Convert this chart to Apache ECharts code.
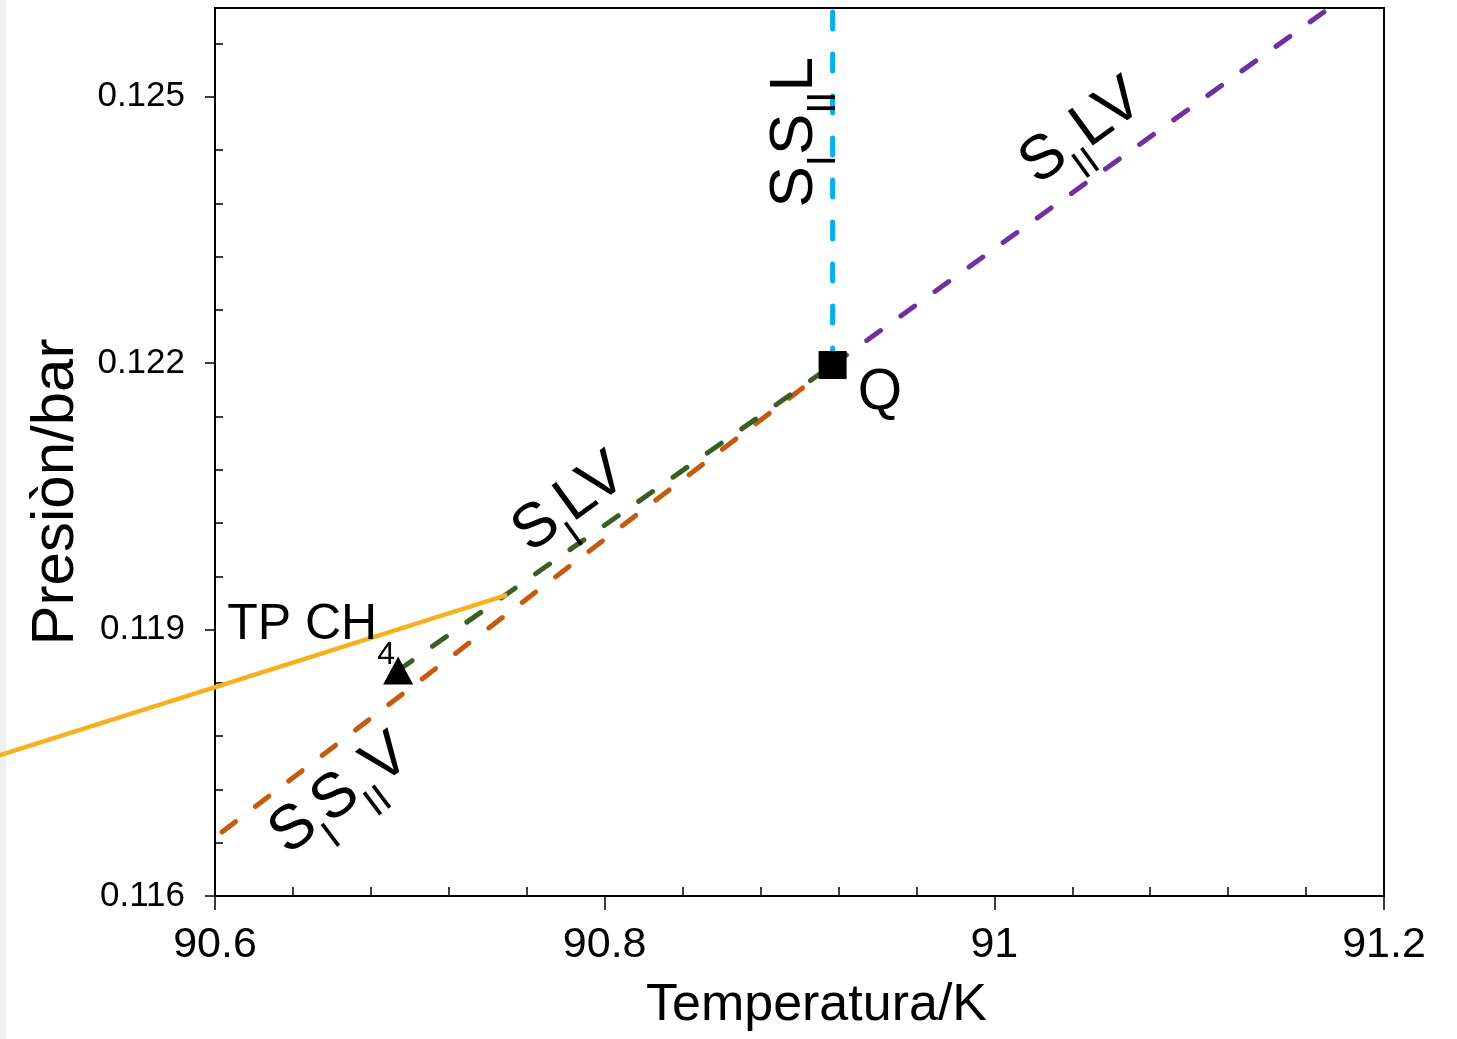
<!DOCTYPE html>
<html><head><meta charset="utf-8">
<script src="https://cdn.jsdelivr.net/npm/echarts@6/dist/echarts.min.js"></script>
<style>html,body{margin:0;padding:0;background:#fff;overflow:hidden}#c{width:1457px;height:1039px}</style>
</head><body><div id="c"></div>
<script>
// ---- data ----
const xTicks = [90.6, 90.8, 91.0, 91.2];
const xMinorTicks = [90.64, 90.68, 90.72, 90.76, 90.84, 90.88, 90.92, 90.96, 91.04, 91.08, 91.12, 91.16];
const yTicks = [0.116, 0.119, 0.122, 0.125];
const yMinorTicks = [0.1166, 0.1172, 0.1178, 0.1184, 0.1196, 0.1202, 0.1208, 0.1214, 0.1226, 0.1232, 0.1238, 0.1244, 0.1256];

const tpCurve   = [[90.48, 0.11752], [90.75, 0.11939]];      // solid gold (extends left of the frame)
const siLV      = [[90.694, 0.11854], [90.917, 0.12198]];    // dark green dashed
const sisiiV    = [[90.6036, 0.11672], [90.917, 0.12198]];   // brown dashed
const sisiiL    = [[90.917, 0.12198], [90.917, 0.126]];      // blue dashed
const siiLV     = [[90.917, 0.12198], [91.172, 0.126]];      // purple dashed
const quadPoint = [[90.917, 0.12198]];                        // Q
const triplePoint = [[90.694, 0.11854]];                      // TP CH4

const labelTexts = ['{m|S}{s|I}{m|S}{s|II}{m|L}', '{m|S}{s|II}{m|LV}', '{m|S}{s|I}{m|LV}', '{m|S}{s|I}{m|S}{s|II}{m|V}', '{t|TP CH}{t4|4}', '{q|Q}'];
const labelX = [90.8977, 91.0449, 90.7822, 90.6642, 90.6493, 90.9413];
const labelY = [0.1246, 0.1246, 0.12042, 0.11714, 0.11905, 0.12166];
const labelAngles = [90, 36, 36, 37, 0, 0];

// ---- chart ----
const FF = '"Liberation Sans", Arial, sans-serif';
const chart = echarts.init(document.getElementById('c'), null, {renderer: 'canvas'});
const gridRect = {left: 215, top: 8, width: 1169, height: 888};
const dash = (color) => ({color: color, width: 5, type: [17, 25], cap: 'round'});

const labelData = labelTexts.map((t, i) => ({
  value: [labelX[i], labelY[i]],
  label: {formatter: t, rotate: labelAngles[i]}
}));

chart.setOption({
  animation: false,
  backgroundColor: '#fff',
  textStyle: {fontFamily: FF},
  grid: [
    Object.assign({show: true, borderColor: '#000', borderWidth: 2, backgroundColor: 'transparent'}, gridRect),
    Object.assign({show: false}, gridRect)
  ],
  xAxis: [
    {type: 'value', gridIndex: 0, min: 90.6, max: 91.2, interval: 0.2, position: 'bottom',
     axisLine: {lineStyle: {color: '#000', width: 2}},
     axisTick: {show: true, inside: false, length: 14, customValues: xTicks, lineStyle: {color: '#000', width: 1.5}},
     axisLabel: {customValues: xTicks, fontSize: 43, margin: 28, color: '#000', fontFamily: FF},
     splitLine: {show: false},
     name: 'Temperatura/K', nameLocation: 'middle', nameGap: 84,
     nameTextStyle: {fontSize: 52, color: '#000', fontFamily: FF, padding: [0, 0, 0, 34]}},
    {type: 'value', gridIndex: 1, min: 90.6, max: 91.2, interval: 0.2, position: 'bottom',
     axisLine: {show: false},
     axisTick: {show: true, inside: true, length: 9, customValues: xMinorTicks, lineStyle: {color: '#000', width: 1.5}},
     axisLabel: {show: false}, splitLine: {show: false}}
  ],
  yAxis: [
    {type: 'value', gridIndex: 0, min: 0.116, max: 0.126, interval: 0.003, position: 'left',
     axisLine: {show: true, lineStyle: {color: '#000', width: 2}},
     axisTick: {show: true, inside: false, length: 10, customValues: yTicks, lineStyle: {color: '#000', width: 1.5}},
     axisLabel: {customValues: yTicks, fontSize: 35, margin: 30, color: '#000', fontFamily: FF},
     splitLine: {show: false},
     name: 'Presiòn/bar', nameLocation: 'middle', nameGap: 128,
     nameTextStyle: {fontSize: 60, color: '#000', fontFamily: FF, padding: [0, 80, 0, 0]}},
    {type: 'value', gridIndex: 1, min: 0.116, max: 0.126, interval: 0.003, position: 'left',
     axisLine: {show: false},
     axisTick: {show: true, inside: true, length: 8, customValues: yMinorTicks, lineStyle: {color: '#000', width: 1.5}},
     axisLabel: {show: false}, splitLine: {show: false}}
  ],
  series: [
    {type: 'line', data: sisiiV, symbol: 'none', lineStyle: dash('#C55A11'), z: 2},
    {type: 'line', data: siLV, symbol: 'none', lineStyle: dash('#3B5E25'), z: 2},
    {type: 'line', data: sisiiL, symbol: 'none', lineStyle: dash('#00B0F0'), z: 2},
    {type: 'line', data: siiLV, symbol: 'none', lineStyle: dash('#7030A0'), z: 2},
    {type: 'scatter', data: quadPoint, symbol: 'rect', symbolSize: 28, itemStyle: {color: '#000', opacity: 1}, z: 5},
    {type: 'scatter', data: triplePoint, symbol: 'triangle', symbolSize: [30, 28], itemStyle: {color: '#000', opacity: 1}, z: 5},
    {type: 'scatter', data: labelData, symbolSize: 1, itemStyle: {color: 'rgba(0,0,0,0)', opacity: 1}, z: 6,
     label: {show: true, position: 'inside', align: 'center', verticalAlign: 'middle', color: '#000',
       rich: {
         m: {fontSize: 62, lineHeight: 70, fontFamily: FF, color: '#000'},
         s: {fontSize: 40, lineHeight: 40, fontFamily: FF, color: '#000', padding: [58, 0, 0, 0]},
         t: {fontSize: 50, lineHeight: 58, fontFamily: FF, color: '#000'},
         t4: {fontSize: 32, lineHeight: 32, fontFamily: FF, color: '#000', padding: [60, 0, 0, 0]},
         q: {fontSize: 57, lineHeight: 64, fontFamily: FF, color: '#000'}
       }},
     emphasis: {disabled: true}}
  ]
});

// gold TP line drawn through the grid's own scales, unclipped (it runs past the left frame)
const tpPixels = tpCurve.map(p => chart.convertToPixel({gridIndex: 0}, p));
chart.setOption({
  graphic: [
    {id: 'strip', type: 'rect', left: 0, top: 0, z: -10, shape: {width: 6, height: 1039}, style: {fill: '#f0f0ef'}},
    {id: 'tp', type: 'polyline', z: 3, shape: {points: tpPixels}, style: {stroke: '#F5B120', lineWidth: 4.5, fill: null}}
  ]
});
</script></body></html>
